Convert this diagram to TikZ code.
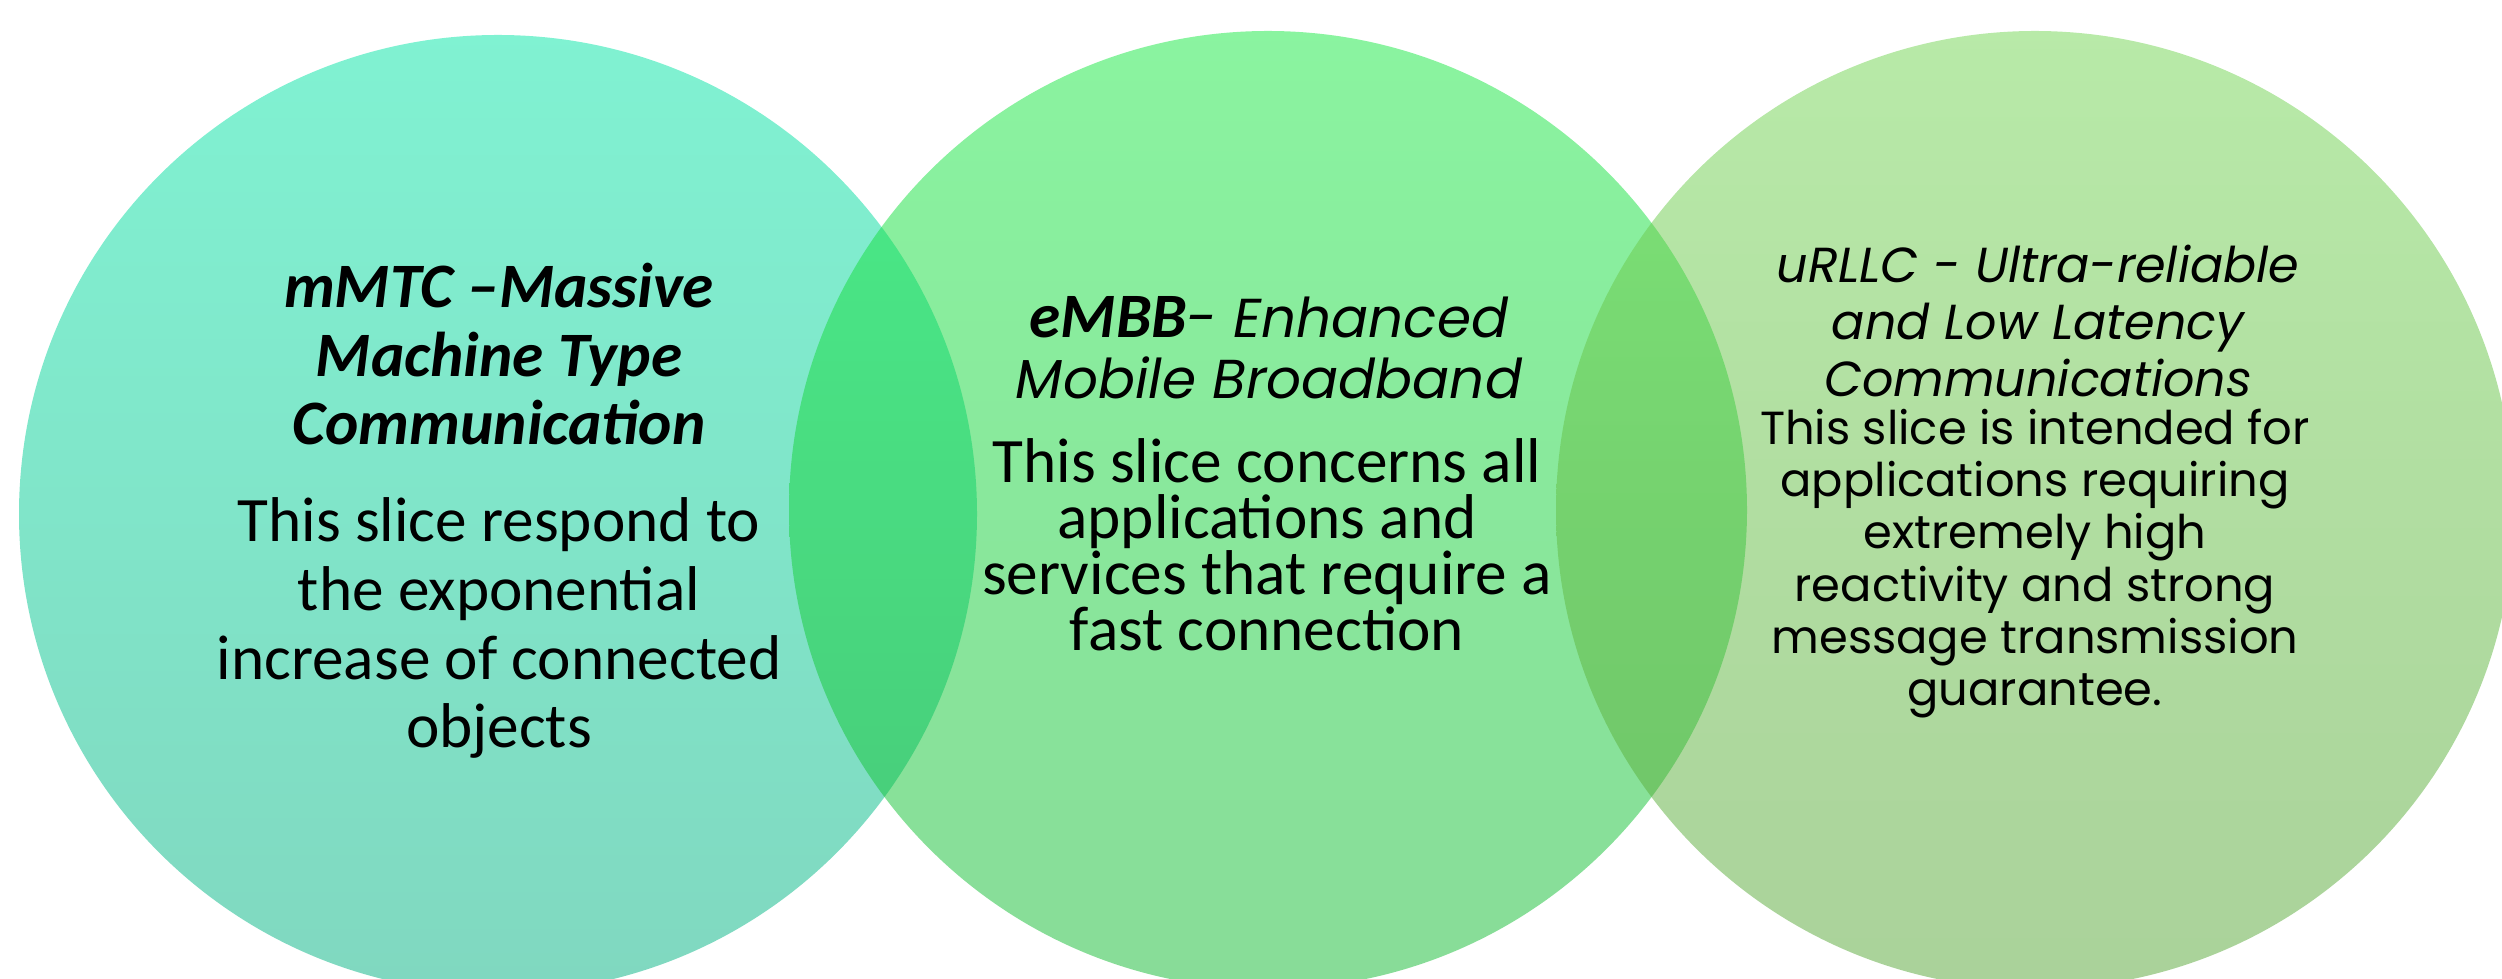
\documentclass[tikz,border=0pt]{standalone}
\usepackage{fontspec}
\setmainfont{Carlito}
\newfontfamily\poppins{Poppins}
\usetikzlibrary{positioning}
\definecolor{mmtcOben}{RGB}{1,229,165}
\definecolor{mmtcUnten}{RGB}{1,177,129}
\definecolor{embbOben}{RGB}{21,233,65}
\definecolor{embbUnten}{RGB}{17,185,49}
\definecolor{urllcOben}{RGB}{113,213,81}
\definecolor{urllcUnten}{RGB}{85,165,53}
\tikzset{
  titel/.style={align=center,anchor=base,font=\fontsize{18}{19.6}\selectfont\bfseries\itshape},
  text1/.style={align=center,anchor=base,font=\fontsize{18}{19.6}\selectfont},
}

\begin{document}
\begin{tikzpicture}
%Alle Masse in Pixel/100 vom Originalbild (2502 x 979), Ursprung unten links.
%Die Kreise sind halb durchsichtig, daher werden die Ueberlappungen dunkler.
%anchor=base liegt bei mehrzeiligen Knoten auf der letzten Zeile!
  \pgfmathsetmacro{\R}{4.79}
  \useasboundingbox (0,0) rectangle (25.02,9.79);
  \clip (0,0) rectangle (25.02,9.79);
\foreach \x/\y/\oben/\unten in {4.98/4.65/mmtcOben/mmtcUnten,12.68/4.69/embbOben/embbUnten,20.35/4.69/urllcOben/urllcUnten}{
\shade[top color=\oben,bottom color=\unten,opacity=0.5] (\x,\y) circle (\R);
}
%mMTC
\node[titel] (mmtc) at (4.99,5.34) {mMTC –Massive\\Machine Type\\Communication};
\node[text1] (mmtctext) at (4.99,2.31) {This slice respond to\\the exponential\\increase of connected\\objects};
%eMBB
\node[align=center,anchor=base,font=\fontsize{15.6}{17.4}\selectfont\poppins\itshape] (embb) at (12.69,5.80)
  {{\fontsize{18}{17.4}\selectfont\rmfamily\bfseries eMBB}- Enhanced\\Mobile Broadband};
\node[text1,font=\fontsize{18}{16}\selectfont] (embbtext) at (12.67,3.28) {This slice concerns all\\applications and\\services that require a\\fast connection};
%uRLLC
\node[align=center,anchor=base,font=\fontsize{14}{16.3}\selectfont\poppins\itshape] (urllc) at (20.38,5.82)
  {uRLLC - Ultra-reliable\\and Low Latency\\Communications};
\node[align=center,anchor=base,font=\fontsize{13.2}{14.9}\selectfont\poppins] (urllctext) at (20.35,2.73)
  {This slice is intended for\\applications requiring\\extremely high\\reactivity and strong\\message transmission\\guarantee.};
\end{tikzpicture}
\end{document}
